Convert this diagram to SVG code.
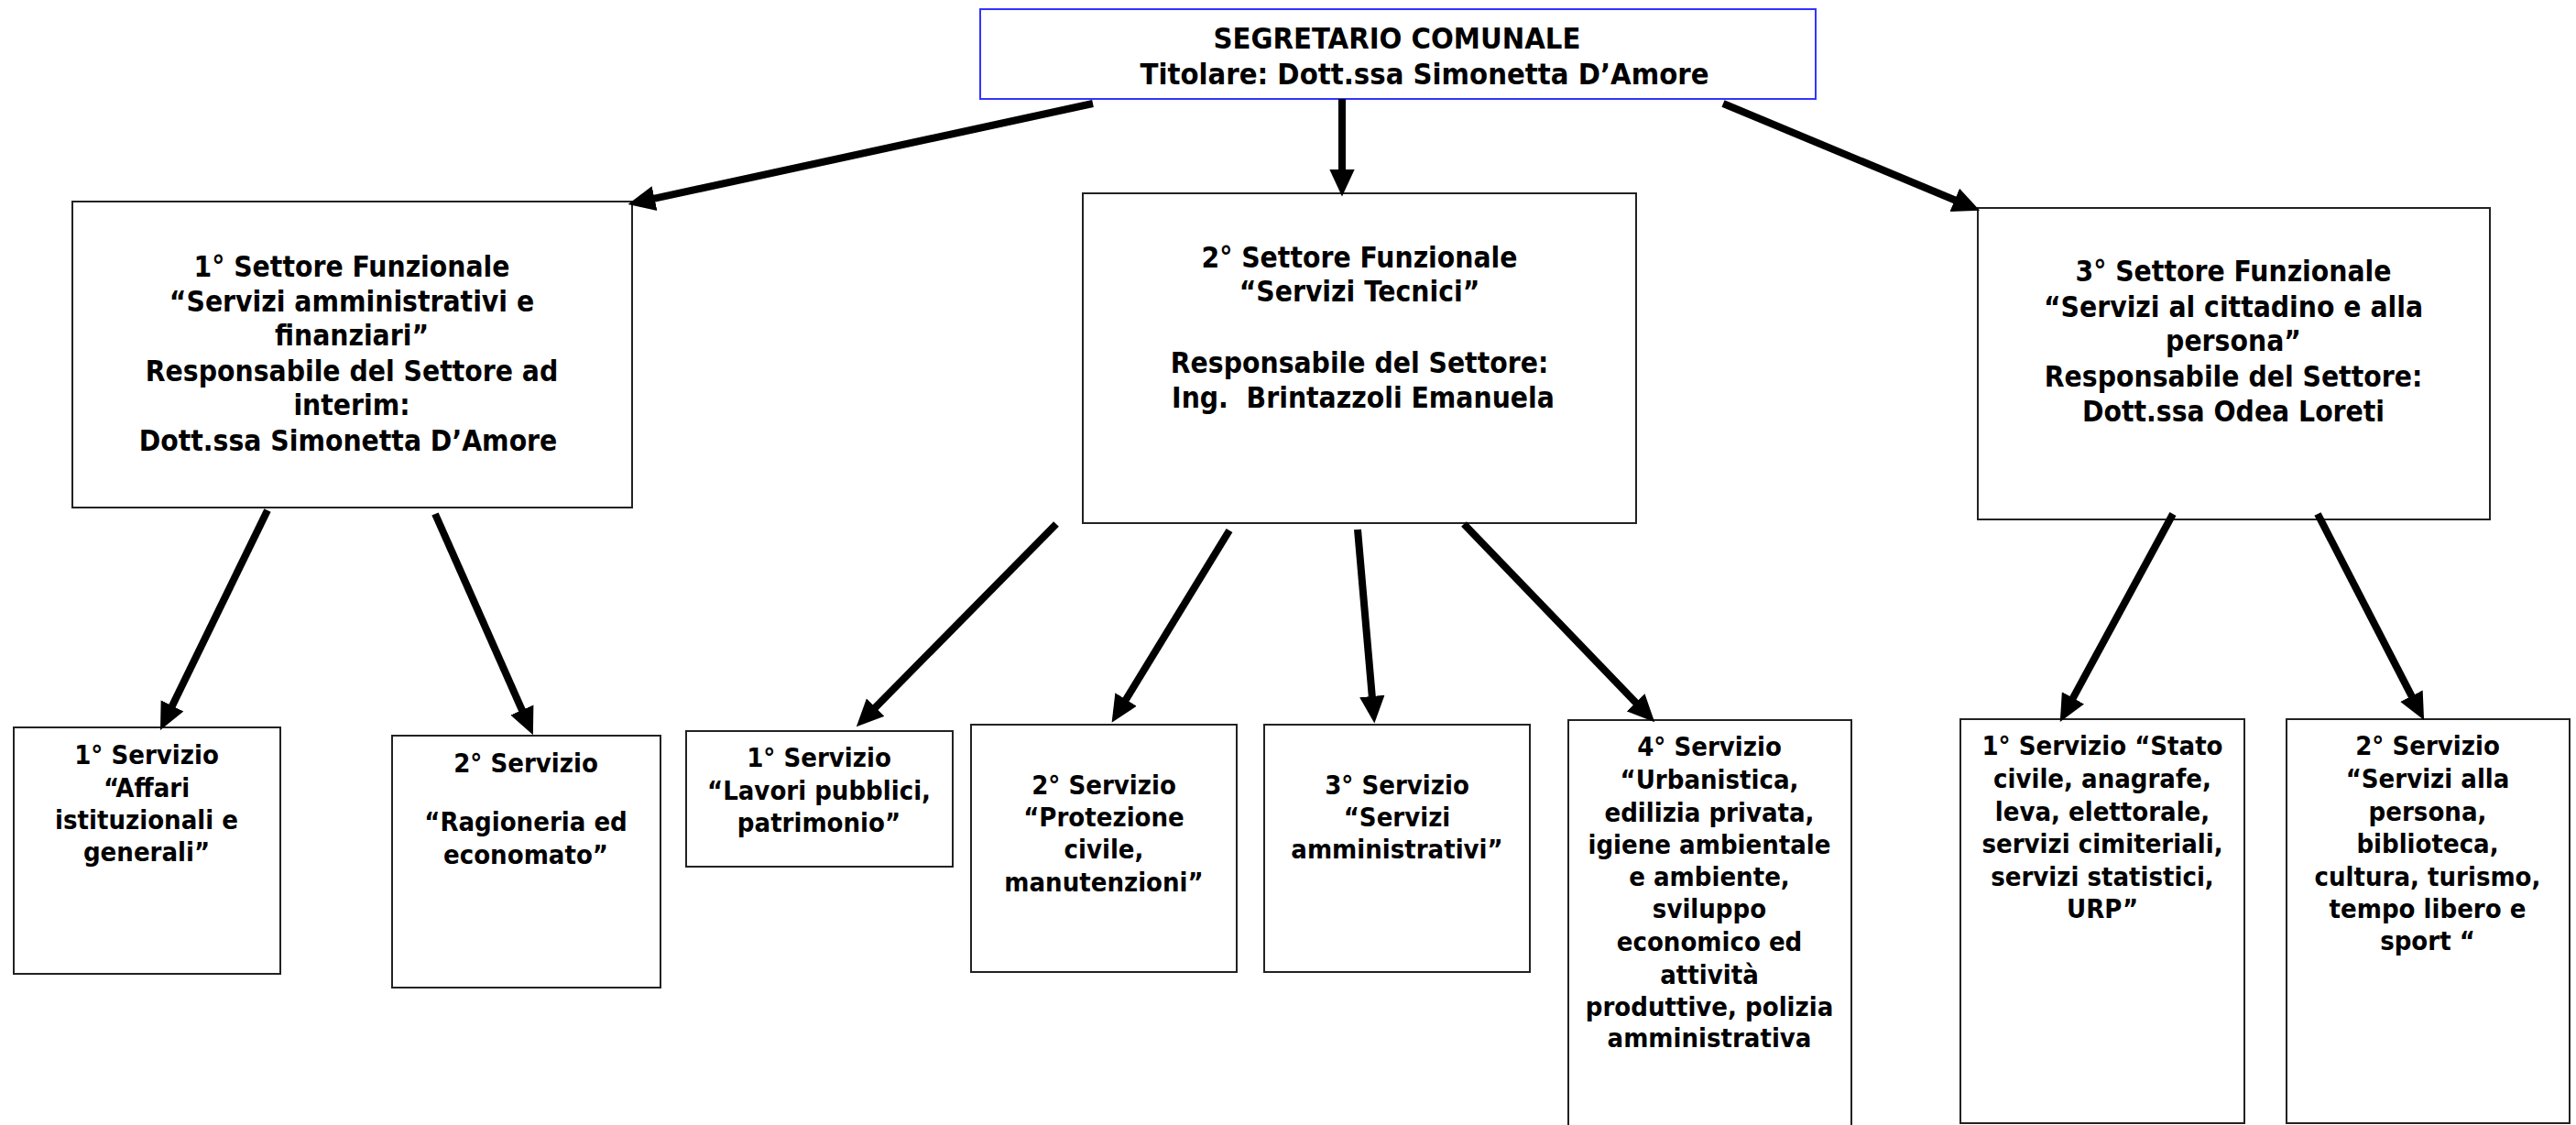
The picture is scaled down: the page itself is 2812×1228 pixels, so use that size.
<svg xmlns="http://www.w3.org/2000/svg" width="2812" height="1228" viewBox="0 0 2812 1228">
<style>
  .box{fill:#fff;stroke:#222;stroke-width:2}
  .top{fill:#fff;stroke:#3333ff;stroke-width:2}
  text{font-family:"DejaVu Sans Condensed","DejaVu Sans",Verdana,sans-serif;font-weight:bold;fill:#000;text-anchor:middle;white-space:pre}
  .h{font-size:32.5px;font-stretch:condensed}
  .l{font-size:31.5px;font-stretch:condensed}
  .s{font-size:29px;font-stretch:condensed}
  .conn line{stroke:#000;stroke-width:8;marker-end:url(#ah)}
</style>
<defs>
  <marker id="ah" markerUnits="userSpaceOnUse" markerWidth="32" markerHeight="32" viewBox="0 -14 28 28" refX="1" refY="0" orient="auto">
    <path d="M0,-12 L26,0 L0,12 z" fill="#000"/>
  </marker>
</defs>
<rect width="2812" height="1228" fill="#fff"/>

<g id="segretario">
  <rect class="top" x="1070" y="10" width="912" height="98"/>
  <text class="h" x="1525" y="53">SEGRETARIO COMUNALE</text>
  <text class="h" x="1555" y="92">Titolare: Dott.ssa Simonetta D’Amore</text>
</g>

<g id="settore1">
  <rect class="box" x="79" y="220" width="611" height="334"/>
  <text class="l" x="384" y="302">1° Settore Funzionale</text>
  <text class="l" x="384" y="340">“Servizi amministrativi e</text>
  <text class="l" x="384" y="377">finanziari”</text>
  <text class="l" x="384" y="416">Responsabile del Settore ad</text>
  <text class="l" x="384" y="453">interim:</text>
  <text class="l" x="380" y="492">Dott.ssa Simonetta D’Amore</text>
</g>

<g id="settore2">
  <rect class="box" x="1182" y="211" width="604" height="360"/>
  <text class="l" x="1484" y="292">2° Settore Funzionale</text>
  <text class="l" x="1484" y="329">“Servizi Tecnici”</text>
  <text class="l" x="1484" y="407">Responsabile del Settore:</text>
  <text class="l" x="1488" y="445">Ing.  Brintazzoli Emanuela</text>
</g>

<g id="settore3">
  <rect class="box" x="2159" y="227" width="559" height="340"/>
  <text class="l" x="2438" y="307">3° Settore Funzionale</text>
  <text class="l" x="2438" y="346">“Servizi al cittadino e alla</text>
  <text class="l" x="2438" y="383">persona”</text>
  <text class="l" x="2438" y="422">Responsabile del Settore:</text>
  <text class="l" x="2438" y="460">Dott.ssa Odea Loreti</text>
</g>

<g id="s1-servizio1">
  <rect class="box" x="15" y="794" width="291" height="269"/>
  <text class="s" x="160" y="834">1° Servizio</text>
  <text class="s" x="160" y="870">“Affari</text>
  <text class="s" x="160" y="905">istituzionali e</text>
  <text class="s" x="160" y="940">generali”</text>
</g>

<g id="s1-servizio2">
  <rect class="box" x="428" y="803" width="293" height="275"/>
  <text class="s" x="574" y="843">2° Servizio</text>
  <text class="s" x="574" y="907">“Ragioneria ed</text>
  <text class="s" x="574" y="943">economato”</text>
</g>

<g id="s2-servizio1">
  <rect class="box" x="749" y="798" width="291" height="148"/>
  <text class="s" x="894" y="837">1° Servizio</text>
  <text class="s" x="894" y="873">“Lavori pubblici,</text>
  <text class="s" x="894" y="908">patrimonio”</text>
</g>

<g id="s2-servizio2">
  <rect class="box" x="1060" y="791" width="290" height="270"/>
  <text class="s" x="1205" y="867">2° Servizio</text>
  <text class="s" x="1205" y="902">“Protezione</text>
  <text class="s" x="1205" y="937">civile,</text>
  <text class="s" x="1205" y="973">manutenzioni”</text>
</g>

<g id="s2-servizio3">
  <rect class="box" x="1380" y="791" width="290" height="270"/>
  <text class="s" x="1525" y="867">3° Servizio</text>
  <text class="s" x="1525" y="902">“Servizi</text>
  <text class="s" x="1525" y="937">amministrativi”</text>
</g>

<g id="s2-servizio4">
  <rect class="box" x="1712" y="786" width="309" height="460"/>
  <text class="s" x="1866" y="825">4° Servizio</text>
  <text class="s" x="1866" y="861">“Urbanistica,</text>
  <text class="s" x="1866" y="897">edilizia privata,</text>
  <text class="s" x="1866" y="932">igiene ambientale</text>
  <text class="s" x="1866" y="967">e ambiente,</text>
  <text class="s" x="1866" y="1002">sviluppo</text>
  <text class="s" x="1866" y="1038">economico ed</text>
  <text class="s" x="1866" y="1074">attività</text>
  <text class="s" x="1866" y="1109">produttive, polizia</text>
  <text class="s" x="1866" y="1143">amministrativa</text>
</g>

<g id="s3-servizio1">
  <rect class="box" x="2140" y="785" width="310" height="441"/>
  <text class="s" x="2295" y="824">1° Servizio “Stato</text>
  <text class="s" x="2295" y="860">civile, anagrafe,</text>
  <text class="s" x="2295" y="896">leva, elettorale,</text>
  <text class="s" x="2295" y="931">servizi cimiteriali,</text>
  <text class="s" x="2295" y="967">servizi statistici,</text>
  <text class="s" x="2295" y="1002">URP”</text>
</g>

<g id="s3-servizio2">
  <rect class="box" x="2496" y="785" width="309" height="441"/>
  <text class="s" x="2650" y="824">2° Servizio</text>
  <text class="s" x="2650" y="860">“Servizi alla</text>
  <text class="s" x="2650" y="896">persona,</text>
  <text class="s" x="2650" y="931">biblioteca,</text>
  <text class="s" x="2650" y="967">cultura, turismo,</text>
  <text class="s" x="2650" y="1002">tempo libero e</text>
  <text class="s" x="2650" y="1037">sport “</text>
</g>

<g id="connectors" class="conn">
  <line x1="1193" y1="113" x2="713.4" y2="216.9"/>
  <line x1="1465" y1="108" x2="1465" y2="186"/>
  <line x1="1881" y1="113" x2="2134.8" y2="218.8"/>
  <line x1="292" y1="557" x2="187.5" y2="771.4"/>
  <line x1="475" y1="561" x2="570.3" y2="776.1"/>
  <line x1="1153" y1="572" x2="954.9" y2="772.9"/>
  <line x1="1342" y1="579" x2="1228.5" y2="764.5"/>
  <line x1="1482" y1="578" x2="1497.9" y2="761.1"/>
  <line x1="1598" y1="572" x2="1786.4" y2="767.7"/>
  <line x1="2372" y1="561" x2="2262.4" y2="762.9"/>
  <line x1="2530" y1="561" x2="2633" y2="760.7"/>
</g>
</svg>
